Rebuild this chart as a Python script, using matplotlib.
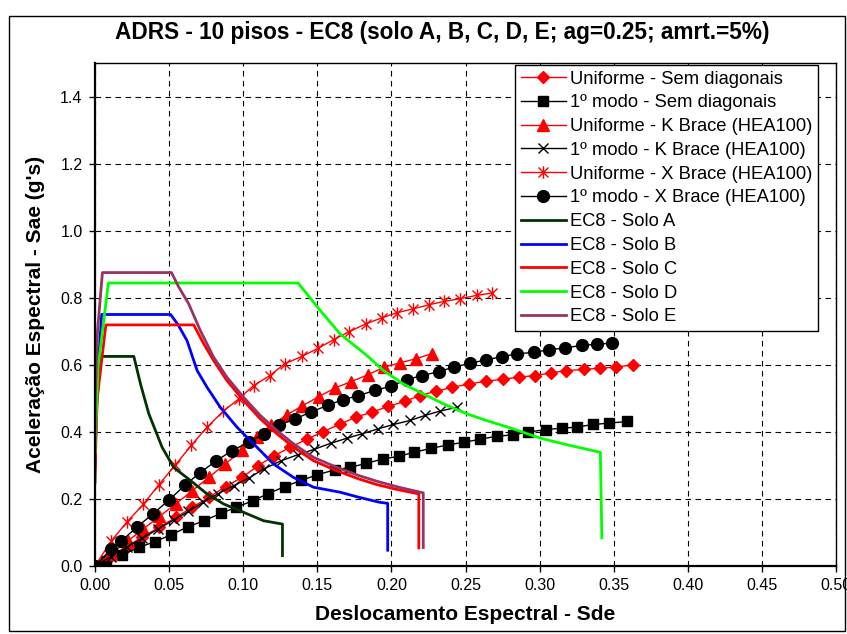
import matplotlib
matplotlib.use("Agg")
import matplotlib.pyplot as plt
from matplotlib.path import Path
from matplotlib.patches import Rectangle
from matplotlib.ticker import MultipleLocator, FormatStrFormatter

plt.rcParams['font.family'] = ['Liberation Sans', 'DejaVu Sans']

# ---------------- data ----------------
x_uni_sem = [0, 0.011, 0.0215, 0.032, 0.0435, 0.0545, 0.0655, 0.077, 0.0882, 0.0995,
             0.110, 0.121, 0.1317, 0.143, 0.154, 0.1654, 0.176, 0.187, 0.198, 0.209,
             0.219, 0.230, 0.241, 0.2526, 0.264, 0.275, 0.286, 0.297, 0.308, 0.318,
             0.330, 0.3406, 0.3514, 0.3627]
y_uni_sem = [0, 0.030, 0.058, 0.087, 0.116, 0.145, 0.175, 0.205, 0.237, 0.265,
             0.299, 0.329, 0.354, 0.378, 0.401, 0.423, 0.444, 0.459, 0.476, 0.491,
             0.508, 0.521, 0.533, 0.543, 0.551, 0.557, 0.563, 0.568, 0.576, 0.583,
             0.586, 0.590, 0.593, 0.600]

x_modo_sem = [0, 0.0075, 0.0185, 0.0298, 0.0403, 0.0515, 0.0628, 0.0736, 0.0848, 0.0954,
              0.1066, 0.117, 0.128, 0.139, 0.150, 0.162, 0.172, 0.183, 0.194, 0.205,
              0.215, 0.227, 0.238, 0.249, 0.260, 0.271, 0.282, 0.292, 0.304, 0.315,
              0.325, 0.336, 0.347, 0.359]
y_modo_sem = [0, 0.016, 0.034, 0.0556, 0.0725, 0.0934, 0.117, 0.135, 0.157, 0.175,
              0.195, 0.216, 0.237, 0.255, 0.272, 0.287, 0.294, 0.306, 0.319, 0.327,
              0.339, 0.351, 0.361, 0.369, 0.378, 0.387, 0.391, 0.399, 0.407, 0.411,
              0.414, 0.422, 0.426, 0.431]

x_uni_k = [0, 0.011, 0.022, 0.0325, 0.0435, 0.0545, 0.0657, 0.077, 0.088, 0.0994,
           0.1095, 0.119, 0.1295, 0.140, 0.151, 0.162, 0.173, 0.1845, 0.195, 0.206,
           0.2164, 0.2272]
y_uni_k = [0, 0.037, 0.074, 0.110, 0.148, 0.185, 0.225, 0.265, 0.305, 0.345,
           0.385, 0.420, 0.451, 0.478, 0.505, 0.531, 0.550, 0.571, 0.593, 0.606,
           0.618, 0.633]

x_modo_k = [0, 0.0108, 0.0215, 0.032, 0.0425, 0.053, 0.063, 0.073, 0.0832, 0.0938,
            0.1037, 0.1142, 0.1257, 0.137, 0.148, 0.159, 0.170, 0.180, 0.191, 0.2014,
            0.2126, 0.2227, 0.2328, 0.2440]
y_modo_k = [0, 0.028, 0.056, 0.083, 0.110, 0.137, 0.163, 0.190, 0.216, 0.240,
            0.262, 0.290, 0.314, 0.332, 0.348, 0.366, 0.381, 0.394, 0.409, 0.422,
            0.434, 0.449, 0.462, 0.473]

x_uni_x = [0, 0.0108, 0.0215, 0.0326, 0.0432, 0.0540, 0.065, 0.0756, 0.0864, 0.0969,
           0.107, 0.118, 0.128, 0.1396, 0.1508, 0.161, 0.1715, 0.1827, 0.1935, 0.2036,
           0.2148, 0.2254, 0.2355, 0.2463, 0.2575, 0.268]
y_uni_x = [0, 0.074, 0.131, 0.184, 0.243, 0.300, 0.360, 0.414, 0.461, 0.498,
           0.538, 0.568, 0.603, 0.625, 0.650, 0.675, 0.699, 0.722, 0.740, 0.755,
           0.767, 0.779, 0.789, 0.797, 0.807, 0.814]

x_modo_x = [0, 0.0108, 0.0178, 0.0285, 0.039, 0.050, 0.0607, 0.0708, 0.0819, 0.0925,
            0.1036, 0.1137, 0.1243, 0.1351, 0.1457, 0.1569, 0.1672, 0.1778, 0.189, 0.1996,
            0.2104, 0.2209, 0.2322, 0.2420, 0.2528, 0.2637, 0.2744, 0.2849, 0.2962, 0.3063,
            0.317, 0.3283, 0.3384, 0.349]
y_modo_x = [0, 0.050, 0.0745, 0.117, 0.155, 0.197, 0.241, 0.278, 0.314, 0.344,
            0.369, 0.394, 0.420, 0.439, 0.459, 0.479, 0.496, 0.508, 0.524, 0.536,
            0.556, 0.568, 0.580, 0.593, 0.604, 0.615, 0.624, 0.633, 0.637, 0.645,
            0.650, 0.658, 0.661, 0.665]

x_ec8_a = [0, 0.0006, 0.0035, 0.0262, 0.0307, 0.0363, 0.0453, 0.0531, 0.0644, 0.0756,
           0.0868, 0.1003, 0.1137, 0.1265, 0.1265]
y_ec8_a = [0.25, 0.44, 0.625, 0.625, 0.543, 0.454, 0.354, 0.294, 0.255, 0.215,
           0.185, 0.160, 0.135, 0.125, 0.031]

x_ec8_b = [0, 0.0011, 0.0045, 0.0510, 0.0560, 0.0621, 0.0689, 0.0756, 0.0846, 0.0958,
           0.1093, 0.1205, 0.134, 0.1474, 0.1654, 0.178, 0.192, 0.1975, 0.1975]
y_ec8_b = [0.30, 0.525, 0.75, 0.75, 0.72, 0.672, 0.583, 0.533, 0.473, 0.414,
           0.354, 0.304, 0.264, 0.235, 0.220, 0.205, 0.19, 0.187, 0.047]

x_ec8_c = [0, 0.0015, 0.0073, 0.0666, 0.0733, 0.080, 0.089, 0.1003, 0.1115, 0.1228,
           0.134, 0.1474, 0.1632, 0.1778, 0.190, 0.203, 0.2185, 0.2185]
y_ec8_c = [0.2875, 0.50, 0.719, 0.719, 0.663, 0.613, 0.553, 0.493, 0.439, 0.394,
           0.354, 0.314, 0.284, 0.260, 0.243, 0.229, 0.215, 0.054]

x_ec8_d = [0, 0.0020, 0.0090, 0.137, 0.152, 0.1654, 0.1834, 0.1946, 0.208, 0.2216,
           0.235, 0.2508, 0.264, 0.280, 0.300, 0.318, 0.341, 0.342]
y_ec8_d = [0.3375, 0.59, 0.844, 0.844, 0.762, 0.692, 0.628, 0.583, 0.543, 0.513,
           0.484, 0.454, 0.434, 0.412, 0.382, 0.362, 0.339, 0.084]

x_ec8_e = [0, 0.0003, 0.0017, 0.0050, 0.0516, 0.0565, 0.0632, 0.0711, 0.080, 0.089,
           0.1003, 0.1115, 0.1228, 0.134, 0.1474, 0.1632, 0.1778, 0.190, 0.205, 0.2215,
           0.2215]
y_ec8_e = [0.35, 0.52, 0.70, 0.875, 0.875, 0.832, 0.782, 0.702, 0.623, 0.563,
           0.503, 0.449, 0.404, 0.364, 0.324, 0.294, 0.270, 0.253, 0.235, 0.218,
           0.055]

labels = ["Uniforme - Sem diagonais", "1º modo - Sem diagonais",
          "Uniforme - K Brace (HEA100)", "1º modo - K Brace (HEA100)",
          "Uniforme - X Brace (HEA100)", "1º modo - X Brace (HEA100)",
          "EC8 - Solo A", "EC8 - Solo B", "EC8 - Solo C", "EC8 - Solo D", "EC8 - Solo E"]

title = "ADRS - 10 pisos - EC8 (solo A, B, C, D, E; ag=0.25; amrt.=5%)"
xlabel = "Deslocamento Espectral - Sde"
ylabel = "Aceleração Espectral - Sae (g's)"

# ---------------- figure ----------------
W, H = 847, 634
fig = plt.figure(figsize=(W / 100, H / 100), dpi=100)
ax = fig.add_axes([95 / W, 1 - 566 / H, (836 - 95) / W, (566 - 63) / H])

# asterisk marker: X with vertical bar (Excel style)
ast = Path([(-1, -1), (1, 1), (-1, 1), (1, -1), (0, -1.25), (0, 1.25)],
           [Path.MOVETO, Path.LINETO, Path.MOVETO, Path.LINETO, Path.MOVETO, Path.LINETO])

red = '#FF0000'
ax.plot(x_uni_sem, y_uni_sem, color=red, lw=1, marker='D', ms=6, mfc=red, mec=red, label=labels[0])
ax.plot(x_modo_sem, y_modo_sem, color='black', lw=1, marker='s', ms=7, mfc='black', mec='black', label=labels[1])
ax.plot(x_uni_k, y_uni_k, color=red, lw=1, marker='^', ms=8, mfc=red, mec=red, label=labels[2])
ax.plot(x_modo_k, y_modo_k, color='black', lw=1, marker='x', ms=7, mew=1, label=labels[3])
ax.plot(x_uni_x, y_uni_x, color=red, lw=1, marker=ast, ms=9, mew=1, mec=red, label=labels[4])
ax.plot(x_modo_x, y_modo_x, color='black', lw=1, marker='o', ms=8.5, mfc='black', mec='black', label=labels[5])
ax.plot(x_ec8_a, y_ec8_a, color='#003300', lw=2, label=labels[6])
ax.plot(x_ec8_b, y_ec8_b, color='#0000FF', lw=2, label=labels[7])
ax.plot(x_ec8_c, y_ec8_c, color='#FF0000', lw=2, label=labels[8])
ax.plot(x_ec8_d, y_ec8_d, color='#00FF00', lw=2, label=labels[9])
ax.plot(x_ec8_e, y_ec8_e, color='#993366', lw=2, label=labels[10])

ax.set_xlim(0, 0.5)
ax.set_ylim(0, 1.5)
ax.xaxis.set_major_locator(MultipleLocator(0.05))
ax.yaxis.set_major_locator(MultipleLocator(0.2))
ax.xaxis.set_major_formatter(FormatStrFormatter('%.2f'))
ax.yaxis.set_major_formatter(FormatStrFormatter('%.1f'))
ax.grid(True, color='black', lw=0.8, linestyle=(0, (5, 4)))
ax.set_axisbelow(True)
ax.tick_params(direction='out', length=4, width=1, labelsize=11.5, colors='black', pad=5)
for s in ax.spines.values():
    s.set_color('black')
    s.set_linewidth(1)
ax.spines['left'].set_linewidth(1.6)
ax.spines['bottom'].set_linewidth(1.6)

ax.set_xlabel(xlabel, fontsize=15, fontweight='bold', labelpad=8)
ax.set_ylabel(ylabel, fontsize=15, fontweight='bold', labelpad=11)
fig.text(442 / W, 1 - 33 / H, title, ha='center', va='center', fontsize=16.3, fontweight='bold')

leg = ax.legend(loc='upper right', bbox_to_anchor=(818 / W, 1 - 65 / H), bbox_transform=fig.transFigure,
                fontsize=13.2, frameon=True, fancybox=False, edgecolor='black', framealpha=1,
                numpoints=1, handlelength=2.45, labelspacing=0.37, borderpad=0.3,
                handletextpad=0.25, borderaxespad=0)
leg.get_frame().set_linewidth(1)

fig.patches.append(Rectangle((9 / W, 3 / H), (845 - 9) / W, (618 - 3) / H, transform=fig.transFigure,
                             fill=False, edgecolor='black', lw=1))

fig.savefig("out.png", dpi=100)
